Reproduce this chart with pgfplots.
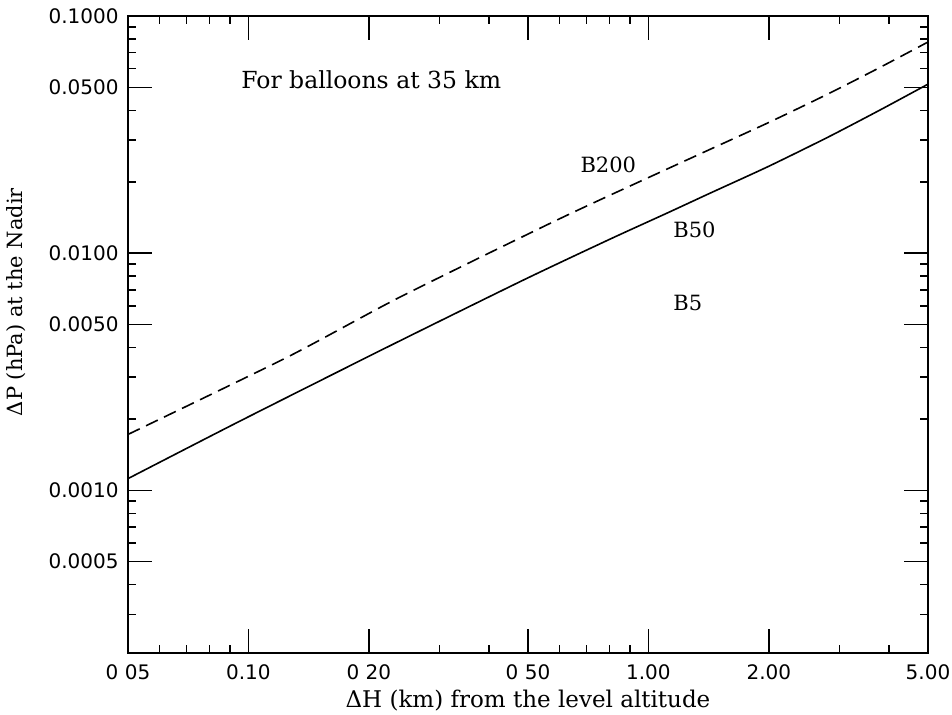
\documentclass[border=0pt]{standalone}
\usepackage{fontspec}
\setmainfont{DejaVu Serif}
\newfontfamily\ticksfont{DejaVu Sans}
\usepackage{pgfplots}
\pgfplotsset{compat=1.18}

\begin{document}
\begin{tikzpicture}
% page: 952 x 715 px at 0.5pt per px
\path[use as bounding box] (-64pt,-31pt) rectangle (412pt,326.5pt);
\begin{axis}[
  anchor=south west, at={(0pt,0pt)},
  scale only axis,
  width=400pt, height=318.5pt,
  xmode=log, ymode=log,
  xmin=0.05, xmax=5,
  ymin=0.000206, ymax=0.1,
  axis line style={line width=0.9pt},
  tick pos=both, tick align=inside,
  major tick length=12pt, minor tick length=4.25pt,
  every tick/.style={black, line width=0.75pt},
  xtick={0.05,0.1,0.2,0.5,1,2,5},
  xticklabels={0 05,0.10,0 20,0 50,1.00,2.00,5.00},
  minor xtick={0.06,0.07,0.08,0.09,0.3,0.4,0.6,0.7,0.8,0.9,3,4},
  ytick={0.1,0.05,0.01,0.005,0.001,0.0005},
  yticklabels={0.1000,0.0500,0.0100,0.0050,0.0010,0.0005},
  minor ytick={0.0003,0.0004,0.0006,0.0007,0.0008,0.0009,
               0.002,0.003,0.004,0.006,0.007,0.008,0.009,
               0.02,0.03,0.04,0.06,0.07,0.08,0.09},
  ticklabel style={font=\ticksfont\fontsize{10}{12}\selectfont},
  yticklabel style={xshift=-1.2pt},
  xticklabel style={yshift=-2.5pt},
  xlabel={ΔH (km) from the level altitude},
  ylabel={ΔP (hPa) at the Nadir},
  every axis x label/.style={at={(axis description cs:0.5,0)},yshift=-24pt,anchor=center,
    font=\fontsize{11.5}{13}\selectfont},
  every axis y label/.style={at={(axis description cs:0,0.551)},xshift=-56pt,rotate=90,anchor=center,
    font=\fontsize{10.5}{12}\selectfont},
  clip=false,
]
% B50
\addplot[black, line width=0.8pt, smooth, tension=0.4] coordinates {
(0.05,0.00112)
(0.0942,0.00194)
(0.222,0.00401)
(0.486,0.00769)
(0.802,0.01146)
(1.113,0.01475)
(1.426,0.0179)
(1.995,0.0232)
(2.818,0.0309)
(3.80,0.0402)
(5.0,0.0516)
};
% B200
\addplot[black, line width=0.8pt, smooth, tension=0.4, dash pattern=on 6.5pt off 3.5pt] coordinates {
(0.05,0.00172)
(0.125,0.00364)
(0.239,0.00652)
(0.612,0.01419)
(1.293,0.0254)
(1.995,0.0355)
(2.818,0.0470)
(3.80,0.0608)
(5.0,0.0777)
};
\node[anchor=west, inner sep=0pt, font=\fontsize{11.75}{13}\selectfont] at (axis cs:0.0958,0.0537) {For balloons at 35 km};
\node[anchor=west, inner sep=0pt, font=\fontsize{10.5}{12}\selectfont] at (axis cs:0.675,0.0235) {B200};
\node[anchor=west, inner sep=0pt, font=\fontsize{10.5}{12}\selectfont] at (axis cs:1.152,0.0125) {B50};
\node[anchor=west, inner sep=0pt, font=\fontsize{10.5}{12}\selectfont] at (axis cs:1.152,0.00615) {B5};
\end{axis}
\end{tikzpicture}
\end{document}
